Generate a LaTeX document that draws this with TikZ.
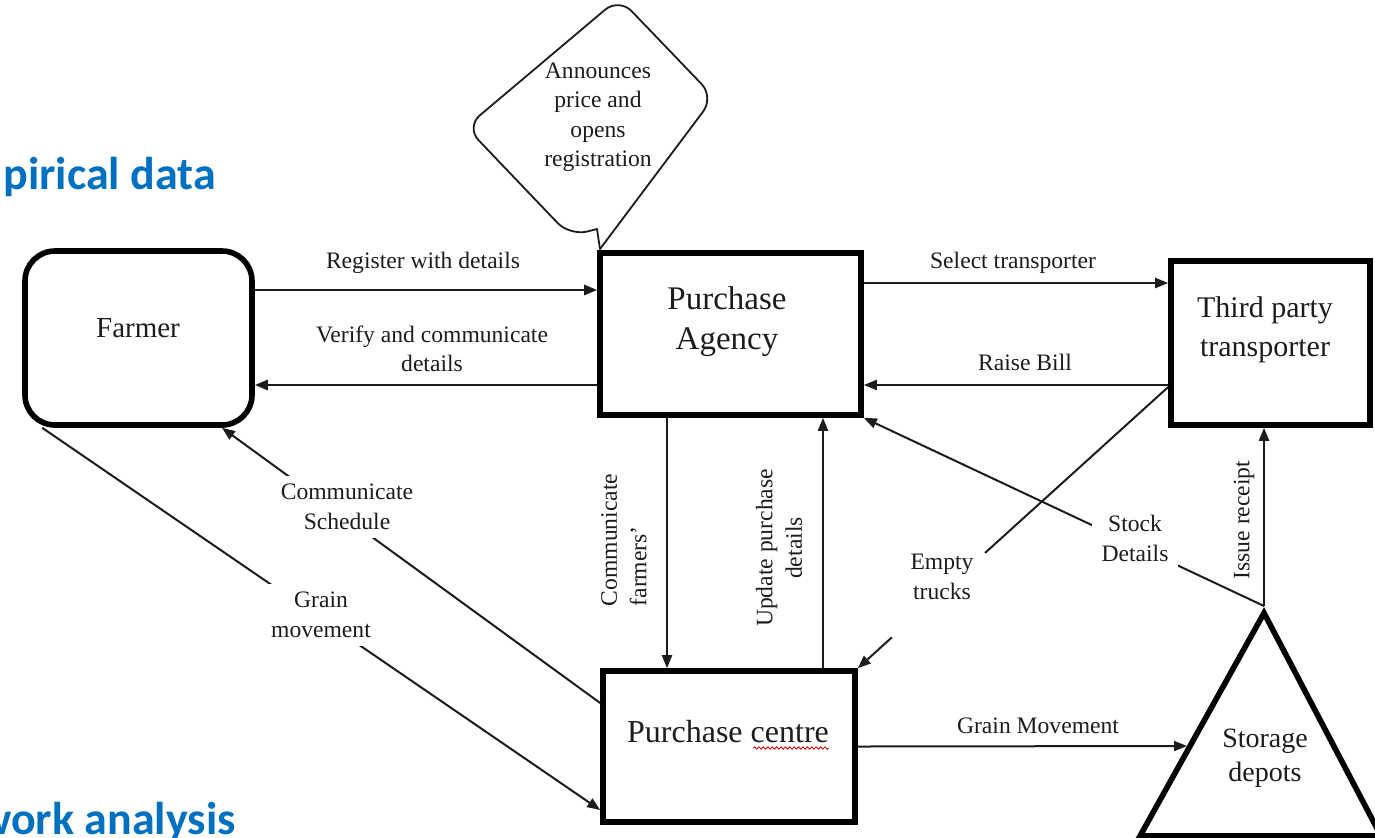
\documentclass[tikz,border=0pt]{standalone}
\usepackage{fontspec}
\setmainfont{Liberation Serif}
\newfontfamily\headfont{Carlito}
\usetikzlibrary{arrows.meta,decorations.pathmorphing,calc}
\definecolor{headblue}{RGB}{0,112,192}
\definecolor{inkgray}{RGB}{28,28,28}
\begin{document}
\begin{tikzpicture}[x=0.5pt,y=-0.5pt,
  box/.style={draw, line width=2.8pt, inner sep=0pt},
  conn/.style={line width=1pt, draw=inkgray, -{Triangle[length=6.5pt,width=5pt]}},
  heavyconn/.style={conn, line width=1.3pt},
  lbl/.style={font=\fontsize{11.8}{14.75}\selectfont, align=center, inner sep=0pt, text=inkgray},
  gaplbl/.style={lbl, fill=white, inner sep=5pt},
  boxtext/.style={align=center, inner sep=0pt, text=inkgray},
  heading/.style={font=\headfont\bfseries\fontsize{23}{28}\selectfont, text=headblue, inner sep=0pt},
]
\useasboundingbox (0,0) rectangle (1375,837);
\clip (0,0) rectangle (1375,837);

% section headings at the page edge
\node[heading, anchor=base west] (hdtop) at (3,189) {pirical data};
\node[heading, anchor=base east] (hdbottom) at (236,834) {work analysis};

% actors
\node[box, rounded corners=15pt, minimum width=113.5pt, minimum height=87pt] (farmer) at (138.5,338) {};
\node[box, minimum width=130.5pt, minimum height=81pt] (pa) at (730.5,334) {};
\node[box, minimum width=99.5pt, minimum height=82pt] (tpt) at (1270.5,343) {};
\node[box, minimum width=126pt, minimum height=75.5pt] (pc) at (729,746.5) {};

% storage depot triangle
\coordinate (top) at (1264,606);
\coordinate (apex) at (1264,613);
\coordinate (baseL) at (1140,836);
\coordinate (baseR) at (1381,836);
\coordinate (gmend) at (1187,746);
\draw[line width=2.8pt, line join=miter] (apex) -- (baseL) -- (baseR) -- cycle;

% box captions
\node[boxtext, font=\fontsize{14.5}{18}\selectfont, anchor=base] (farmertext) at (138,337) {Farmer};
\node[boxtext, font=\fontsize{16.5}{20}\selectfont] (patext) at (727,322) {Purchase\\Agency};
\node[boxtext, font=\fontsize{15}{19.5}\selectfont] (tpttext) at (1265,330) {Third party\\transporter};
\node[boxtext, font=\fontsize{16}{20}\selectfont, anchor=base] (pctext) at (728,742) {Purchase centre};
\node[boxtext, font=\fontsize{14}{17}\selectfont] (sdtext) at (1265,758) {Storage\\depots};
\draw[red!80!black, line width=0.4pt, decorate,
      decoration={snake, amplitude=0.6pt, segment length=2.2pt}]
  ($(pctext.base east)+(-76,6)$) -- ($(pctext.base east)+(0,6)$);

% announcement callout
\draw[line width=0.9pt, draw=inkgray, rounded corners=9pt, line cap=round]
  (597,229) -- (570,236) -- (466,127) -- (619,-2) -- (714,97) -- (600,249);
\draw[line width=0.9pt, draw=inkgray, line cap=round] (600,249) -- (597,229);
\node[lbl] (announce) at (598,117) {Announces\\price and\\opens\\registration};

% information and material flows
\draw[heavyconn] (farmer.east |- 0,290) -- (pa.west |- 0,290);
\draw[heavyconn] (pa.west |- 0,385) -- (farmer.east |- 0,385);
\draw[conn] (pa.east |- 0,283) -- (tpt.west |- 0,283);
\draw[conn] (tpt.west |- 0,385) -- (pa.east |- 0,385);
\draw[conn] (pa.south -| 667,0) -- (pc.north -| 667,0);
\draw[conn] (pc.north -| 823,0) -- (pa.south -| 823,0);
\draw[conn] (pc.east) -- (gmend);
\draw[conn] (top) -- (tpt.south -| top);
\draw[conn] (top) -- (pa.south east);
\coordinate (etstart) at (tpt.west |- 0,387);
\draw[conn, -] (etstart) -- ($(etstart)!0.59!(pc.north east)$);
\draw[conn] ($(etstart)!0.89!(pc.north east)$) -- (pc.north east);
\draw[conn] (pc.west |- 0,703) -- (farmer.south -| 222,0);
\draw[conn] ([xshift=10pt]farmer.south west) -- (pc.west |- 0,810);

% flow labels
\node[lbl, anchor=base] (lregister) at (423,268) {Register with details};
\node[lbl] (lverify) at (432,349) {Verify and communicate\\details};
\node[lbl, anchor=base] (lselect) at (1013,268) {Select transporter};
\node[lbl, anchor=base] (lbill) at (1025,370) {Raise Bill};
\node[lbl, anchor=base] (lgrainright) at (1038,733) {Grain Movement};
\node[lbl, align=left, rotate=90] (lcommfarm) at (624,540) {Communicate\\farmers'};
\node[lbl, rotate=90] (lupdate) at (779,548) {Update purchase\\details};
\node[lbl, rotate=90] (lissue) at (1244,520) {Issue receipt};
\node[gaplbl] (lstock) at (1135,538.5) {Stock\\Details};
\node[lbl] (lempty) at (942,577) {Empty\\trucks};
\node[gaplbl, inner sep=4pt] (lsched) at (347,507) {Communicate\\Schedule};
\node[gaplbl, inner sep=4pt] (lgrainleft) at (321,615) {Grain\\movement};
\end{tikzpicture}
\end{document}
